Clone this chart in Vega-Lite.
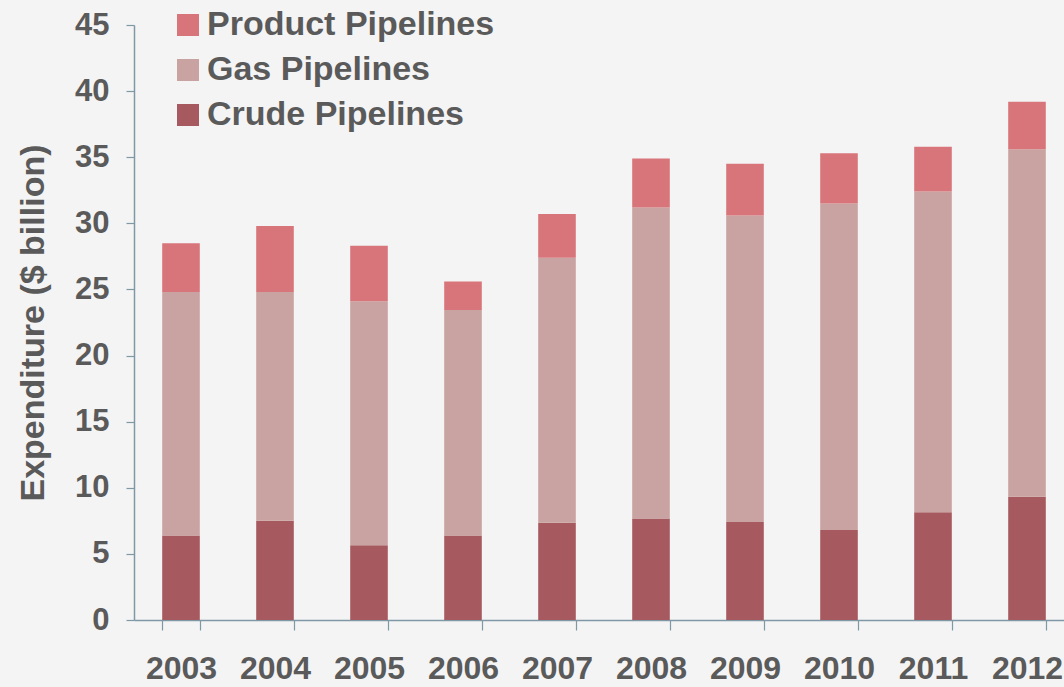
{
  "$schema": "https://vega.github.io/schema/vega-lite/v6.json",
  "autosize": {"type": "none"},
  "padding": {"left": 134, "top": 25, "right": 0, "bottom": 67},
  "width": 940,
  "height": 595,
  "background": "#f4f4f4",
  "config": {
    "view": {"stroke": null},
    "font": "Liberation Sans"
  },
  "data": {
    "values": [
      {"year": "2003", "type": "Crude Pipelines", "value": 6.4},
      {"year": "2003", "type": "Gas Pipelines", "value": 18.4},
      {"year": "2003", "type": "Product Pipelines", "value": 3.7},
      {"year": "2004", "type": "Crude Pipelines", "value": 7.5},
      {"year": "2004", "type": "Gas Pipelines", "value": 17.3},
      {"year": "2004", "type": "Product Pipelines", "value": 5.0},
      {"year": "2005", "type": "Crude Pipelines", "value": 5.65},
      {"year": "2005", "type": "Gas Pipelines", "value": 18.45},
      {"year": "2005", "type": "Product Pipelines", "value": 4.2},
      {"year": "2006", "type": "Crude Pipelines", "value": 6.4},
      {"year": "2006", "type": "Gas Pipelines", "value": 17.05},
      {"year": "2006", "type": "Product Pipelines", "value": 2.15},
      {"year": "2007", "type": "Crude Pipelines", "value": 7.36},
      {"year": "2007", "type": "Gas Pipelines", "value": 20.04},
      {"year": "2007", "type": "Product Pipelines", "value": 3.3},
      {"year": "2008", "type": "Crude Pipelines", "value": 7.67},
      {"year": "2008", "type": "Gas Pipelines", "value": 23.53},
      {"year": "2008", "type": "Product Pipelines", "value": 3.7},
      {"year": "2009", "type": "Crude Pipelines", "value": 7.41},
      {"year": "2009", "type": "Gas Pipelines", "value": 23.19},
      {"year": "2009", "type": "Product Pipelines", "value": 3.9},
      {"year": "2010", "type": "Crude Pipelines", "value": 6.8},
      {"year": "2010", "type": "Gas Pipelines", "value": 24.7},
      {"year": "2010", "type": "Product Pipelines", "value": 3.8},
      {"year": "2011", "type": "Crude Pipelines", "value": 8.14},
      {"year": "2011", "type": "Gas Pipelines", "value": 24.26},
      {"year": "2011", "type": "Product Pipelines", "value": 3.4},
      {"year": "2012", "type": "Crude Pipelines", "value": 9.33},
      {"year": "2012", "type": "Gas Pipelines", "value": 26.27},
      {"year": "2012", "type": "Product Pipelines", "value": 3.6}
    ]
  },
  "transform": [
    {"calculate": "datum.type === 'Crude Pipelines' ? 0 : (datum.type === 'Gas Pipelines' ? 1 : 2)", "as": "stackOrder"}
  ],
  "mark": {"type": "bar"},
  "encoding": {
    "x": {
      "field": "year",
      "type": "ordinal",
      "scale": {"paddingInner": 0.6, "paddingOuter": 0.3},
      "axis": {
        "title": null,
        "labelAngle": 0,
        "labelFont": "Liberation Sans",
        "labelFontWeight": "bold",
        "labelFontSize": 32,
        "labelColor": "#5a5a5a",
        "labelPadding": 23,
        "tickBand": "extent",
        "tickSize": 10,
        "tickColor": "#7f98a6",
        "domainColor": "#7f98a6",
        "domainWidth": 1.5,
        "tickWidth": 1.2
      }
    },
    "y": {
      "field": "value",
      "type": "quantitative",
      "stack": "zero",
      "scale": {"domain": [0, 45], "nice": false},
      "axis": {
        "title": "Expenditure ($ billion)",
        "titleFont": "Liberation Sans",
        "titleFontWeight": "bold",
        "titleFontSize": 34,
        "titleColor": "#5a5a5a",
        "titlePadding": 24,
        "values": [0, 5, 10, 15, 20, 25, 30, 35, 40, 45],
        "labelFont": "Liberation Sans",
        "labelFontWeight": "bold",
        "labelFontSize": 31,
        "labelColor": "#5a5a5a",
        "labelPadding": 17,
        "tickSize": 8,
        "tickColor": "#7f98a6",
        "domainColor": "#7f98a6",
        "domainWidth": 1.5,
        "tickWidth": 1.2,
        "grid": false
      }
    },
    "color": {
      "field": "type",
      "type": "nominal",
      "scale": {
        "domain": ["Product Pipelines", "Gas Pipelines", "Crude Pipelines"],
        "range": ["#d7757b", "#c9a3a1", "#a6595e"]
      },
      "legend": {
        "title": null,
        "orient": "none",
        "legendX": 37,
        "legendY": -17,
        "symbolType": "square",
        "symbolSize": 484,
        "symbolStrokeWidth": 0,
        "labelFont": "Liberation Sans",
        "labelFontWeight": "bold",
        "labelFontSize": 34,
        "labelColor": "#5a5a5a",
        "labelLimit": 500,
        "labelOffset": 2,
        "rowPadding": 11
      }
    },
    "order": {"field": "stackOrder", "type": "quantitative"}
  }
}
